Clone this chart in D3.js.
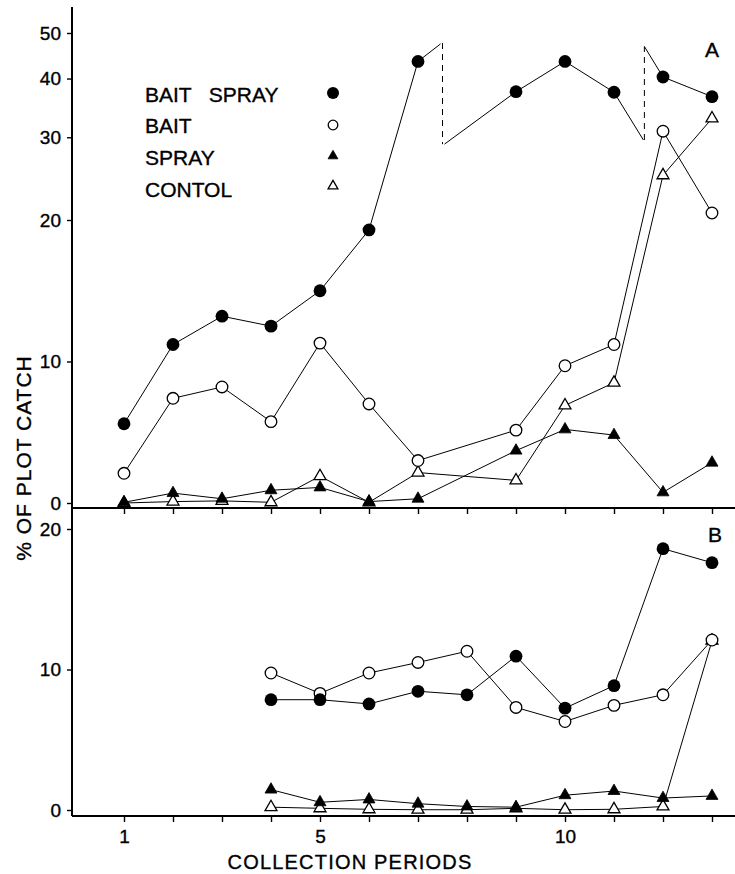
<!DOCTYPE html>
<html><head><meta charset="utf-8">
<script src="https://cdn.jsdelivr.net/npm/d3@7"></script>
<style>
html,body{margin:0;padding:0;background:#fff;}
svg{display:block;font-family:"Liberation Sans",Arial,Helvetica,sans-serif;}
svg text{stroke:#000;stroke-width:0.35px;}
</style></head><body>
<svg id="chart" width="735" height="874"></svg>
<script>
// ---------- data ----------
const periods = [1,2,3,4,5,6,7,8,9,10,11,12,13];
const xTickLabels = [1,5,10];
const yTicksALinear = [0,10,20];
const yTicksALog = [30,40,50];
const yTicksB = [0,10,20];
const seriesNames = ["BAIT   SPRAY","BAIT","SPRAY","CONTOL"];
const seriesMarks = ["fc","oc","ft","ot"];

// Panel A (% of plot catch; null = not plotted)
const aBaitSpray = [5.6, 11.2, 13.2, 12.5, 15.0, 19.3, 43.5, null, 37.5, 43.5, 37.4, 40.3, 36.6];
const aBait      = [2.1, 7.4, 8.2, 5.75, 11.3, 7.0, 3.0, null, 5.15, 9.7, 11.2, 30.9, 20.7];
const aSpray     = [0.05, 0.7, 0.3, 0.9, 1.1, 0.1, 0.3, null, 3.7, 5.2, 4.8, 0.75, 2.85];
const aControl   = [0, 0.1, 0.15, 0.05, 1.9, 0.05, 2.15, null, 1.6, 6.9, 8.5, 24.9, 32.9];
// BAIT SPRAY in A is drawn in runs of periods, with break links and dashed verticals [period, %]
const aBaitSprayRuns = [[1,7],[9,11],[12,13]];
const aBreakLinks  = [[[7,43.5],[7.46,47.4]], [[7.54,29.0],[9,37.5]], [[11,37.4],[11.6,29.6]], [[11.62,46.8],[12,40.3]]];
const aBreakDashes = [[[7.5,47.6],[7.5,29.0]], [[11.62,29.6],[11.62,46.8]]];

// Panel B
const bBaitSpray = [null,null,null, 7.85, 7.85, 7.55, 8.45, 8.2, 10.95, 7.25, 8.85, 18.6, 17.6];
const bBait      = [null,null,null, 9.75, 8.3, 9.75, 10.5, 11.3, 7.3, 6.3, 7.45, 8.2, 12.1];
const bSpray     = [null,null,null, 1.45, 0.55, 0.75, 0.45, 0.25, 0.2, 1.05, 1.35, 0.85, 1.0];
const bControl   = [null,null,null, 0.2, 0.12, 0.05, 0.02, 0.02, 0.12, 0.02, 0.05, 0.25, 12.05];

// ---------- layout ----------
const W = 735, H = 874;
const axisX = 72, axisTop = 7;
const baseA = 508, baseB = 816;
const svg = d3.select("#chart");

const x = d3.scaleLinear().domain([1,13]).range([124,712]);
const yALin = d3.scaleLinear().domain([0,20]).range([503,220]);
const yALog = d3.scaleLog().domain([20,50]).range([220,33]);
const yA = v => v <= 20 ? yALin(v) : yALog(v);
const yB = d3.scaleLinear().domain([0,20]).range([810,529]);

// ---------- axes ----------
function styleAxis(g, fs){
  g.select(".domain").remove();
  g.selectAll("line").attr("stroke","#000").attr("stroke-width",1.4);
  g.selectAll("text").attr("fill","#000").attr("font-size",fs)
    .attr("font-family","'Liberation Sans',Arial,sans-serif");
}
[[yALin,yTicksALinear],[yALog,yTicksALog],[yB,yTicksB]].forEach(([s,t])=>{
  const g = svg.append("g").attr("transform",`translate(${axisX},0)`)
    .call(d3.axisLeft(s).tickValues(t).tickFormat(d3.format("d")).tickSize(5).tickPadding(6));
  styleAxis(g,19);
});
// main vertical axis
svg.append("line").attr("x1",axisX).attr("x2",axisX).attr("y1",axisTop).attr("y2",baseB)
  .attr("stroke","#000").attr("stroke-width",2);
// baselines
[baseA, baseB].forEach(b=>{
  svg.append("line").attr("x1",axisX).attr("x2",W).attr("y1",b).attr("y2",b)
    .attr("stroke","#000").attr("stroke-width",2);
});
// x ticks
const gxA = svg.append("g").attr("transform",`translate(0,${baseA})`)
  .call(d3.axisBottom(x).tickValues(periods).tickFormat("").tickSize(6));
styleAxis(gxA,19);
const gxB = svg.append("g").attr("transform",`translate(0,${baseB})`)
  .call(d3.axisBottom(x).tickValues(periods)
    .tickFormat(d => xTickLabels.includes(d) ? d : "").tickSize(6).tickPadding(8));
styleAxis(gxB,19);

// axis titles
svg.append("text").attr("x",350).attr("y",869).attr("text-anchor","middle")
  .attr("font-size",20).attr("letter-spacing",1.2).text("COLLECTION PERIODS");
svg.append("text").attr("transform","translate(31,458) rotate(-90)")
  .attr("text-anchor","middle").attr("font-size",21).attr("letter-spacing",1)
  .text("% OF PLOT CATCH");

// panel letters
svg.append("text").attr("x",712).attr("y",57).attr("text-anchor","middle").attr("font-size",21).text("A");
svg.append("text").attr("x",715).attr("y",542).attr("text-anchor","middle").attr("font-size",21).text("B");

// ---------- marks ----------
function marker(g, type, cx, cy, small){
  if (type === "fc") {
    g.append("circle").attr("cx",cx).attr("cy",cy).attr("r", small?6:6.4).attr("fill","#000");
  } else if (type === "oc") {
    g.append("circle").attr("cx",cx).attr("cy",cy).attr("r", small?4.8:5.8)
      .attr("fill","#fff").attr("stroke","#000").attr("stroke-width",1.3);
  } else {
    g.append("path").attr("transform",`translate(${cx},${cy})`)
      .attr("d", d3.symbol(d3.symbolTriangle, small?42:62)())
      .attr("fill", type === "ft" ? "#000" : "#fff")
      .attr("stroke","#000").attr("stroke-width", type === "ft" ? 0.8 : 1.3);
  }
}
function pts(arr){ return periods.map((p,i)=>[p,arr[i]]).filter(d=>d[1]!==null); }

function drawLine(g, data, yScale, dash){
  g.append("path").datum(data)
    .attr("d", d3.line().x(d=>x(d[0])).y(d=>yScale(d[1])))
    .attr("fill","none").attr("stroke","#000").attr("stroke-width",1)
    .attr("stroke-dasharray", dash || null);
}

const gLines = svg.append("g");
const gMarks = svg.append("g");

// Panel A
const aSeries = [aBaitSpray, aBait, aSpray, aControl];
aBaitSprayRuns.forEach(([s,e])=>{
  drawLine(gLines, pts(aBaitSpray).filter(d=>d[0]>=s && d[0]<=e), yA);
});
aBreakLinks.forEach(l=>drawLine(gLines, l, yA));
aBreakDashes.forEach(l=>drawLine(gLines, l, yA, "6,5"));
[aBait, aSpray, aControl].forEach(a=>drawLine(gLines, pts(a), yA));
[3,2,1,0].forEach(k=>{
  pts(aSeries[k]).forEach(d=>marker(gMarks, seriesMarks[k], x(d[0]), yA(d[1])));
});

// Panel B
const bSeries = [bBaitSpray, bBait, bSpray, bControl];
bSeries.forEach(a=>drawLine(gLines, pts(a), yB));
[3,2,1,0].forEach(k=>{
  pts(bSeries[k]).forEach(d=>marker(gMarks, seriesMarks[k], x(d[0]), yB(d[1])));
});

// ---------- legend ----------
const legY = [102,133,165,197];
const legSymY = [93,125,156,186];
seriesNames.forEach((n,i)=>{
  svg.append("text").attr("x",145).attr("y",legY[i]).attr("font-size",21)
    .style("white-space","pre").text(n);
  marker(svg, seriesMarks[i], 333, legSymY[i], true);
});
</script>
</body></html>
